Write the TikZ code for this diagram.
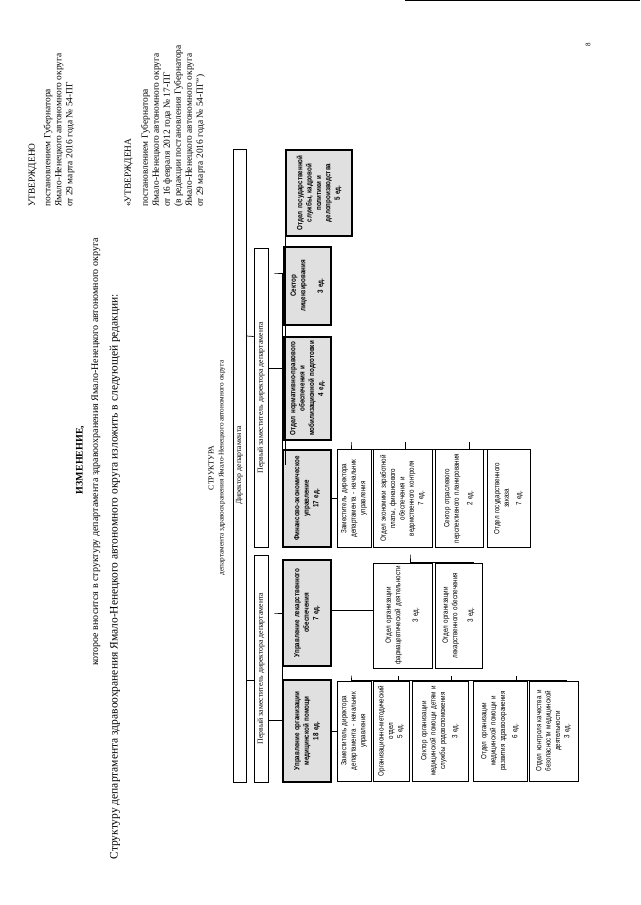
\documentclass[tikz,border=0pt]{standalone}
\usepackage{fontspec}
\setmainfont{Liberation Serif}
\newfontfamily\narrowsans[FakeStretch=0.82]{Liberation Sans}
\usetikzlibrary{calc}

\newcommand{\boxfont}{\narrowsans\fontsize{7.6}{9.4}\selectfont}
\newcommand{\headfont}{\fontsize{7.8}{9}\selectfont}
\newcommand{\pagefont}{\fontsize{10}{11}\selectfont}
\newcommand{\stampfont}{\fontsize{9.4}{11}\selectfont}

\begin{document}
\begin{tikzpicture}[x=1pt, y=1pt]
  \tikzstyle{unit}=[draw, line width=0.8pt, align=center, inner sep=1pt, font=\boxfont]
  \tikzstyle{dept}=[unit, fill=black!12, line width=1.2pt, font=\boxfont\bfseries]
  \tikzstyle{head}=[draw, line width=0.8pt, inner sep=0pt, font=\headfont]
  \tikzstyle{link}=[line width=0.7pt]
  \tikzset{boxsize/.style 2 args={minimum width=#1, minimum height=#2, text width=#1-6}}

  % the sheet is printed in landscape, turned on the page
  \begin{scope}[rotate=90, transform shape]
  \useasboundingbox (0,0) rectangle (905,640);
  \draw[line width=0.8pt] (904.6,0) -- (904.6,235);
  \node[font=\fontsize{7}{8}\selectfont] (pageno) at (860,52) {8};

  \node[anchor=north west, align=left, inner sep=0pt, font=\stampfont] (approved) at (698,611.5)
    {УТВЕРЖДЕНО\\[4.5pt] постановлением Губернатора\\ Ямало-Ненецкого автономного округа\\ от 29 марта 2016 года № 54-ПГ};
  \node[anchor=north west, align=left, inner sep=0pt, font=\stampfont] (approved2) at (698,515.5)
    {«УТВЕРЖДЕНА\\[6pt] постановлением Губернатора\\ Ямало-Ненецкого автономного округа\\ от 16 февраля 2012 года № 17-ПГ\\ (в редакции постановления Губернатора\\ Ямало-Ненецкого автономного округа\\ от 29 марта 2016 года № 54-ПГ")};

  \node[font=\fontsize{10}{12}\selectfont\bfseries] (title) at (445,560) {ИЗМЕНЕНИЕ,};
  \node[font=\pagefont] (subtitle) at (453,544)
    {которое вносится в структуру департамента здравоохранения Ямало-Ненецкого автономного округа};
  \node[anchor=west, font=\fontsize{11.5}{13}\selectfont] (intro) at (42,525)
    {Структуру департамента здравоохранения Ямало-Ненецкого автономного округа изложить в следующей редакции:};

  \node[font=\headfont] (chartTitle) at (437,429) {СТРУКТУРА};
  \node[font=\fontsize{7.2}{8}\selectfont] (chartSub) at (437,418)
    {департамента здравоохранения Ямало-Ненецкого автономного округа};

  % heads
  \node[head, minimum width=633, minimum height=13] (director) at (439.5,400.5) {Директор департамента};
  \node[head, minimum width=299, minimum height=14] (deputyR) at (507.5,379) {Первый заместитель директора департамента};
  \node[head, minimum width=227, minimum height=14] (deputyL) at (236.5,379) {Первый заместитель директора департамента};

  % departments
  \node[dept, boxsize={86}{66}] (cadre) at (712,321)
    {Отдел государственной\\ службы, кадровой\\ политики и\\ делопроизводства\\ 5 ед.};
  \node[dept, boxsize={78}{47}] (license) at (619,332.5) {Сектор лицензирования\\[8pt] 3 ед.};
  \node[dept, boxsize={103}{47}] (legal) at (516.5,332.5)
    {Отдел нормативно-правового\\ обеспечения и\\ мобилизационной подготовки\\ 4 ед.};
  \node[dept, boxsize={97}{48}] (finance) at (406.5,333) {Финансово-экономическое\\ управление\\ 17 ед.};
  \node[dept, boxsize={106}{48}] (drugs) at (292,333) {Управление лекарственного\\ обеспечения\\ 7 ед.};
  \node[dept, boxsize={102}{48}] (medcare) at (174,333) {Управление организации\\ медицинской помощи\\ 18 ед.};

  % finance units
  \node[unit, boxsize={98}{34}] (finDep) at (406.5,286) {Заместитель директора\\ департамента - начальник\\ управления};
  \node[unit, boxsize={98}{59}] (finSal) at (406.5,237.5)
    {Отдел экономики заработной\\ платы, финансового\\ обеспечения и\\ ведомственного контроля\\ 7 ед.};
  \node[unit, boxsize={98}{48}] (finPlan) at (406.5,181) {Сектор отраслевого\\ перспективного планирования\\[4pt] 2 ед.};
  \node[unit, boxsize={98}{43}] (finOrder) at (406.5,131.5) {Отдел государственного\\ заказа\\[3pt] 7 ед.};

  % drug supply units
  \node[unit, boxsize={105}{59}] (drugPharm) at (289.5,237.5)
    {Отдел организации\\ фармацевтической деятельности\\[8pt] 3 ед.};
  \node[unit, boxsize={105}{47}] (drugSupply) at (289.5,181.5)
    {Отдел организации\\ лекарственного обеспечения\\[6pt] 3 ед.};

  % medical care units
  \node[unit, boxsize={100}{34}] (medDep) at (174,286) {Заместитель директора\\ департамента - начальник\\ управления};
  \node[unit, boxsize={100}{36}] (medMethod) at (174,249) {Организационно-методический\\ отдел\\ 5 ед.};
  \node[unit, boxsize={100}{56}] (medChild) at (174,200)
    {Сектор организации\\ медицинской помощи детям и\\ службы родовспоможения\\[3pt] 3 ед.};
  \node[unit, boxsize={100}{54}] (medDev) at (174,140)
    {Отдел организации\\ медицинской помощи и\\ развития здравоохранения\\[3pt] 6 ед.};
  \node[unit, boxsize={100}{49}] (medQuality) at (174,86.5)
    {Отдел контроля качества и\\ безопасности медицинской\\ деятельности\\ 3 ед.};

  % director links
  \draw[link] (cadre.north) -- (cadre.north -| director.south);
  \draw[link] ($(deputyR.north)+(61,0)$) -- ($(director.south)+(129.5,0)$);
  \draw[link] ($(deputyL.north)+(-11.5,0)$) -- ($(director.south)+(-214.5,0)$);

  % first deputies
  \draw[link] ($(deputyR.south)+(29.5,0)$) -- ($(legal.north)+(20.5,0)$);
  \draw[link] ($(license.north)+(13,0)$) -- ++(0,9) |- (finance.north);
  \draw[link] ($(deputyL.south)+(-51.5,0)$) -- ($(medcare.north)+(11,0)$);
  \draw[link] (drugs.north) -- ++(0,8) |- ($(medcare.north)+(11,0)$);

  % finance
  \draw[link] (finance.south) -- (finDep.north);
  \draw[link] ($(finDep.east)+(0,3)$) -- ++(7,0) -| ($(finOrder.east)+(0,-6.5)$);
  \draw[link] ($(finSal.east)+(0,-2.5)$) -- ++(7,0);
  \draw[link] ($(finPlan.east)+(0,-10)$) -- ++(7,0);

  % drug supply
  \draw[link] ($(drugs.south)+(3,0)$) -- ($(drugPharm.north)+(5.5,0)$);
  \draw[link] ($(drugPharm.east)+(0,-7.5)$) -- ++(8,0) -| ($(drugSupply.east)+(0,-15.5)$);

  % medical care
  \draw[link] (medcare.south) -- (medDep.north);
  \draw[link] ($(medDep.east)+(0,3)$) -- ++(5,0) -| ($(medQuality.east)+(0,-13.5)$);
  \draw[link] ($(medMethod.east)+(0,-7)$) -- ++(5,0);
  \draw[link] ($(medChild.east)+(0,-11)$) -- ++(5,0);
  \draw[link] ($(medDev.east)+(0,-16)$) -- ++(5,0);
  \end{scope}
\end{tikzpicture}
\end{document}
